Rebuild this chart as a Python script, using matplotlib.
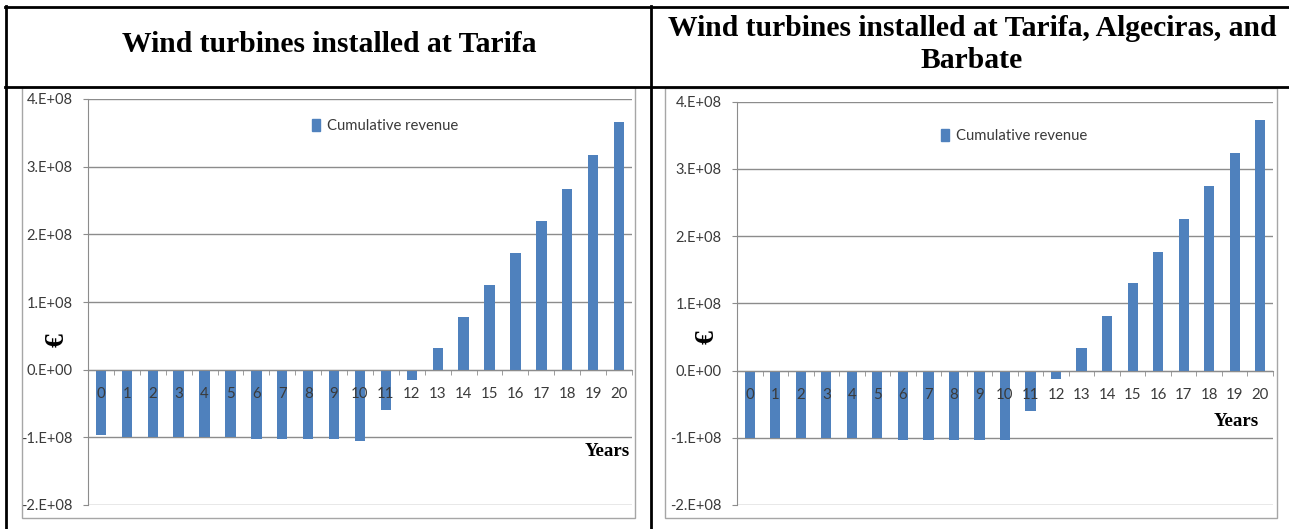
import matplotlib.pyplot as plt
from matplotlib.lines import Line2D
from matplotlib.patches import Rectangle, Patch
from matplotlib.ticker import FixedLocator

W, H = 1289, 529

years = list(range(21))
# cumulative revenue, euros
tarifa = [-0.97e8, -1.00e8, -1.00e8, -1.00e8, -1.00e8, -1.00e8, -1.03e8, -1.03e8,
          -1.03e8, -1.03e8, -1.05e8, -0.60e8, -0.15e8, 0.32e8, 0.78e8, 1.25e8,
          1.72e8, 2.20e8, 2.67e8, 3.17e8, 3.66e8]
three_sites = [-1.00e8, -1.00e8, -1.00e8, -1.00e8, -1.00e8, -1.00e8, -1.03e8, -1.03e8,
               -1.03e8, -1.03e8, -1.03e8, -0.60e8, -0.12e8, 0.34e8, 0.81e8, 1.30e8,
               1.77e8, 2.26e8, 2.75e8, 3.24e8, 3.73e8]
y_ticks = [-2e8, -1e8, 0, 1e8, 2e8, 3e8, 4e8]
y_labels = ['-2.E+08', '-1.E+08', '0.E+00', '1.E+08', '2.E+08', '3.E+08', '4.E+08']
titles = ['Wind turbines installed at Tarifa',
          'Wind turbines installed at Tarifa, Algeciras, and\nBarbate']

BLUE = '#4F81BD'
GRID = '#8c8c8c'
TXT = '#3a3a3a'
SANS = 'Lato'
SERIF = 'Liberation Serif'


def px_rect(x0, y0, x1, y1):
    # pixel box (top-left origin) -> figure fraction [left, bottom, width, height]
    return [x0 / W, 1 - y1 / H, (x1 - x0) / W, (y1 - y0) / H]


fig = plt.figure(figsize=(W / 100, H / 100), dpi=100)

# table grid
def hline(y, x0, x1, lw=2):
    fig.add_artist(Line2D([x0 / W, x1 / W], [1 - y / H, 1 - y / H], color='black', lw=lw))

def vline(x, y0, y1, lw=2):
    fig.add_artist(Line2D([x / W, x / W], [1 - y0 / H, 1 - y1 / H], color='black', lw=lw))

hline(6.5, 5, W)
hline(86.5, 5, W)
vline(6, 5.5, H)
vline(651, 5.5, H)

# chart area frames
for box in [(22, 87, 635, 518), (665, 88, 1277, 518)]:
    x0, y0, x1, y1 = box
    fig.add_artist(Rectangle((x0 / W, 1 - y1 / H), (x1 - x0) / W, (y1 - y0) / H,
                             transform=fig.transFigure, fill=False,
                             edgecolor='#a6a6a6', lw=1))

fig.text(329 / W, 1 - 44 / H, titles[0], ha='center', va='center',
         family=SERIF, fontweight='bold', fontsize=21.3)
fig.text(972 / W, 1 - 44.5 / H, titles[1], ha='center', va='center',
         family=SERIF, fontweight='bold', fontsize=21.3, linespacing=1.25)

panels = [
    dict(box=(88, 99, 632, 505), data=tarifa, euro=(57, 340), years_pos=(630, 452),
         leg=(312, 126)),
    dict(box=(737, 101.7, 1273, 505), data=three_sites, euro=(707.5, 337.5),
         years_pos=(1259, 422), leg=(941, 136)),
]

for p in panels:
    x0, y0, x1, y1 = p['box']
    ax = fig.add_axes(px_rect(x0, y0, x1, y1))
    ax.bar(years, p['data'], width=0.4, color=BLUE, zorder=1)
    ax.set_xlim(-0.5, 20.5)
    ax.set_ylim(-2e8, 4e8)

    # gridlines kept under the bars, axis labels drawn over them
    for v in y_ticks:
        ax.axhline(v, color=GRID, lw=1, zorder=0.5)
    ax.set_axisbelow(False)
    ax.set_yticks(y_ticks)
    ax.set_yticklabels(y_labels)

    for s in ['top', 'right']:
        ax.spines[s].set_visible(False)
    ax.spines['left'].set_color(GRID)
    ax.spines['bottom'].set_color(GRID)
    ax.spines['bottom'].set_position(('data', 0))

    ax.set_xticks(years)
    ax.set_xticklabels([str(y) for y in years])
    ax.xaxis.set_minor_locator(FixedLocator([i - 0.5 for i in range(22)]))
    ax.tick_params(axis='x', which='major', length=0, pad=12.5, labelsize=10.8,
                   labelcolor=TXT)
    ax.tick_params(axis='x', which='minor', length=3.5, color=GRID, direction='out')
    ax.tick_params(axis='y', length=3.6, color=GRID, labelsize=10.5, labelcolor=TXT, pad=7.5)
    for lbl in ax.get_xticklabels() + ax.get_yticklabels():
        lbl.set_family(SANS)

    ex, ey = p['euro']
    fig.text(ex / W, 1 - ey / H, '€', family=SERIF, fontweight='bold', fontsize=20,
             rotation=90, ha='center', va='center')

    yx, yy = p['years_pos']
    fig.text(yx / W, 1 - yy / H, 'Years', ha='right', va='center',
             family=SERIF, fontweight='bold', fontsize=13.6)

    lx, ly = p['leg']
    ax.legend(handles=[Patch(color=BLUE, label='Cumulative revenue')],
              loc='center left', bbox_to_anchor=((lx - x0) / (x1 - x0), (y1 - ly) / (y1 - y0)),
              frameon=False, handlelength=0.55, handleheight=0.9, handletextpad=0.45,
              borderaxespad=0, borderpad=0,
              prop=dict(family=SANS, size=10.7), labelcolor=TXT)

fig.savefig('out.png', dpi=100)
